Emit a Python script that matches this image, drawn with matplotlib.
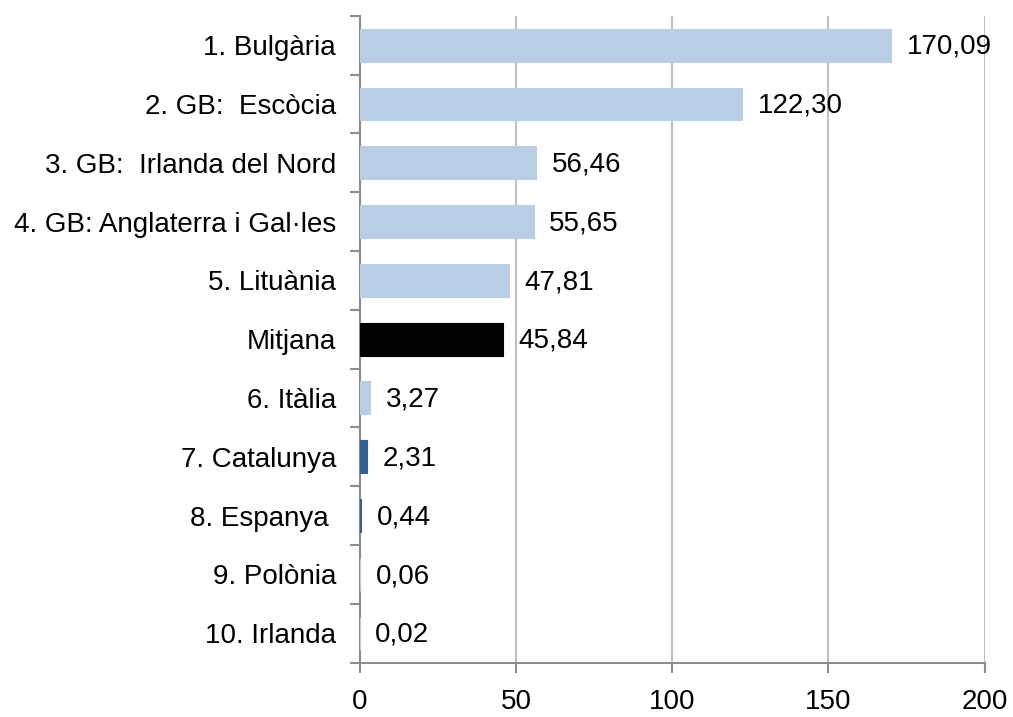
import matplotlib.pyplot as plt

plt.rcParams['font.family'] = ['Liberation Sans', 'DejaVu Sans']

# data (top to bottom)
labels = ['1. Bulgària', '2. GB:  Escòcia', '3. GB:  Irlanda del Nord',
          '4. GB: Anglaterra i Gal·les', '5. Lituània', 'Mitjana', '6. Itàlia',
          '7. Catalunya', '8. Espanya ', '9. Polònia', '10. Irlanda']
values = [170.09, 122.30, 56.46, 55.65, 47.81, 45.84, 3.27, 2.31, 0.44, 0.06, 0.02]
colors = ['#B9CDE5'] * 5 + ['#000000', '#B9CDE5', '#376092', '#376092', '#B9CDE5', '#B9CDE5']

fig = plt.figure(figsize=(10.13, 7.17), dpi=100)
ax = fig.add_axes([0.355, 0.076, 0.617, 0.902])

ypos = list(range(len(labels)))
ax.barh(ypos, values, height=0.56, color=colors, edgecolor=colors, linewidth=0.8, zorder=3)
ax.set_ylim(len(labels) - 0.5, -0.5)
ax.set_xlim(0, 200)

for y, v in zip(ypos, values):
    ax.text(v + 5, y + 0.03, f'{v:.2f}'.replace('.', ','), va='center', ha='left', fontsize=20)

ax.set_xticks([0, 50, 100, 150, 200])
ax.set_xticklabels(['0', '50', '100', '150', '200'], fontsize=20)
ax.set_yticks(ypos)
ax.set_yticklabels(labels, fontsize=20)
ax.set_yticks([i + 0.5 for i in range(-1, len(labels))], minor=True)
ax.tick_params(axis='y', which='major', length=0, pad=17)
ax.tick_params(axis='y', which='minor', length=7, width=1.5, color='#8C8C8C', direction='out')
ax.tick_params(axis='x', length=7, width=1.5, color='#8C8C8C', pad=12)

ax.grid(axis='x', color='#C0C0C0', linewidth=1.5, zorder=0)
for s in ['top', 'right']:
    ax.spines[s].set_visible(False)
for s in ['left', 'bottom']:
    ax.spines[s].set_color('#8C8C8C')
    ax.spines[s].set_linewidth(1.5)

fig.savefig('out.png', dpi=100)
